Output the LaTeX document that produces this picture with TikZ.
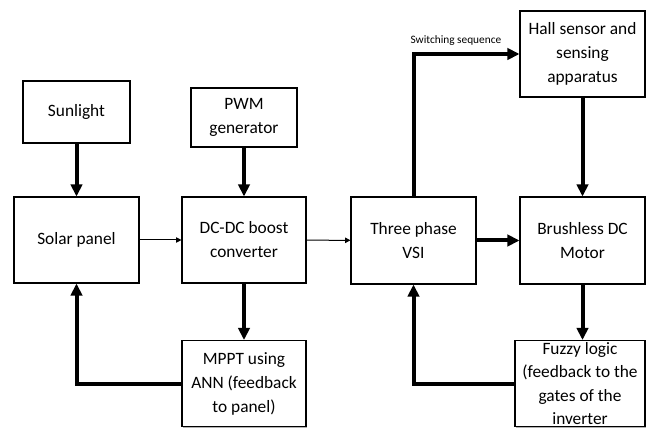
\documentclass[tikz,border=0pt]{standalone}
\usepackage{fontspec}
\setmainfont{Carlito}
\usetikzlibrary{arrows.meta,shadows}

\begin{document}
\begin{tikzpicture}[x=0.75pt,y=-0.75pt,
  block/.style={draw, line width=0.8pt, fill=white, align=center,
    minimum width=93.75pt, minimum height=64.5pt, inner sep=2pt,
    font=\fontsize{13pt}{18pt}\selectfont,
    drop shadow={shadow xshift=0.9pt, shadow yshift=-0.9pt, fill=black, opacity=0.3}},
  heavy/.style={line width=3pt, -{Triangle[length=9pt,width=8.5pt]}},
  light/.style={line width=0.75pt, -{Triangle[length=4pt,width=4pt]}}]
  \useasboundingbox (0,0) rectangle (651,428);

  \node[block, minimum width=80.25pt, minimum height=46.5pt] (sun) at (76.5,112) {Sunlight};
  \node[block] (solar) at (76.5,240) {Solar panel};
  \node[block, minimum width=79.5pt, minimum height=44.25pt] (pwm) at (244,117.5) {PWM\\generator};
  \node[block, minimum width=93pt] (dcdc) at (244,240) {DC-DC boost\\converter};
  \node[block, minimum width=93pt] (mppt) at (244,383.5) {MPPT using\\ANN (feedback\\to panel)};
  \node[block, minimum height=65.25pt] (vsi) at (413.5,240.5) {Three phase\\VSI};
  \node[block, minimum height=65.25pt] (bldc) at (582.5,240.5) {Brushless DC\\Motor};
  \node[block] (hall) at (582.5,54) {Hall sensor and\\sensing\\apparatus};
  \node[block, minimum width=97.5pt, label={[align=center, font=\fontsize{13pt}{17.5pt}\selectfont]center:Fuzzy logic\\(feedback to the\\gates of the\\inverter}] (fuzzy) at (580,383.5) {};

  \draw[heavy] (sun) -- (solar);
  \draw[heavy] (pwm) -- (dcdc);
  \draw[light] (solar) -- (dcdc);
  \draw[light] (dcdc) -- (vsi);
  \draw[heavy] (vsi) -- (bldc);
  \draw[heavy] (hall) -- (bldc);
  \draw[heavy] (dcdc) -- (mppt);
  \draw[heavy] (bldc.south) -- (bldc.south |- fuzzy.north);
  \draw[heavy] (mppt.west) -| (solar.south);
  \draw[heavy] (fuzzy.west) -| (vsi.south);
  \draw[heavy] (vsi.north) |- (hall.west)
    node[pos=0.7, above=4pt, inner sep=1pt, font=\fontsize{8.5pt}{10pt}\selectfont] {Switching sequence};
\end{tikzpicture}
\end{document}
